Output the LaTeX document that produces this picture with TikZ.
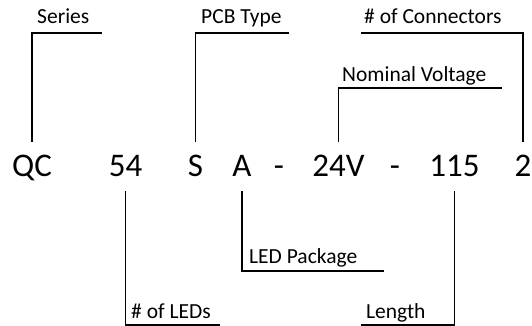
\documentclass[tikz,border=0pt]{standalone}
\usepackage{fontspec}
\setmainfont{Carlito}
\begin{document}
\begin{tikzpicture}[x=1pt,y=-1pt,
  code/.style={anchor=base,inner sep=0pt,font=\fontsize{33}{36}\selectfont},
  lbl/.style={anchor=base west,inner sep=0pt,font=\fontsize{21.5}{24}\selectfont},
  conn/.style={line width=1.6pt}]
\useasboundingbox (0,0) rectangle (532,326);
% code parts
\node[code] (qc)   at (32,176)    {QC};
\node[code] (leds) at (125.5,176) {54};
\node[code] (pcb)  at (195.5,176) {S};
\node[code] (pkg)  at (242,176)   {A};
\node[code] (d1)   at (279,176)   {-};
\node[code] (volt) at (338.5,176) {24V};
\node[code] (d2)   at (395,176)   {-};
\node[code] (len)  at (454.5,176) {115};
\node[code] (con)  at (523,176)   {2};
% labels
\node[lbl] (lseries) at (37,24)  {Series};
\node[lbl] (lpcb)    at (201,24) {PCB Type};
\node[lbl] (lcon)    at (364,24) {\# of Connectors};
\node[lbl] (lvolt)   at (342,82) {Nominal Voltage};
\node[lbl] (lleds)   at (131,318) {\# of LEDs};
\node[lbl] (lpkg)    at (249,263) {LED Package};
\node[lbl] (llen)    at (366,318) {Length};
% levels and free ends
\coordinate (topY) at (0,142);
\coordinate (botY) at (0,191);
\coordinate (eseries) at (102,33);
\coordinate (epcb)    at (289,33);
\coordinate (econ)    at (361,33);
\coordinate (evolt)   at (502,88);
\coordinate (eleds)   at (220,325);
\coordinate (epkg)    at (384,271);
\coordinate (elen)    at (361,325);
% connectors
\draw[conn] (qc |- topY) |- (eseries);
\draw[conn] (pcb |- topY) |- (epcb);
\draw[conn] (con |- topY) |- (econ);
\draw[conn] (volt |- topY) |- (evolt);
\draw[conn] (leds |- botY) |- (eleds);
\draw[conn] (pkg |- botY) |- (epkg);
\draw[conn] (len |- botY) |- (elen);
\end{tikzpicture}
\end{document}
